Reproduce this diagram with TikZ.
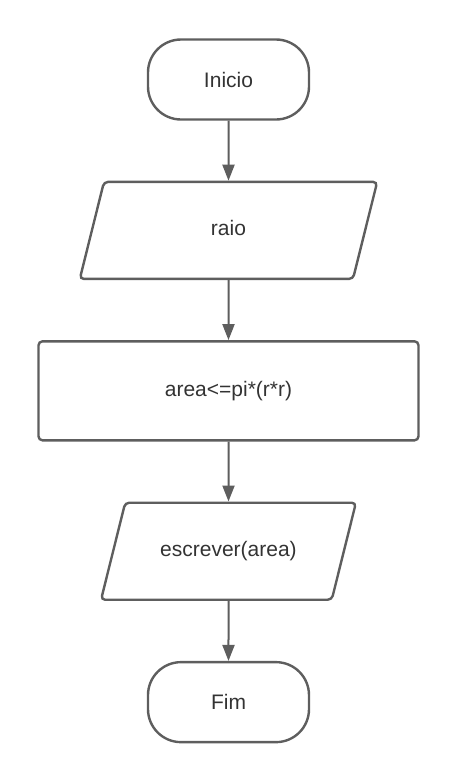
\documentclass[tikz,border=0pt]{standalone}
\usepackage{fontspec}
\setmainfont{Liberation Sans}
\usetikzlibrary{arrows.meta, positioning, shapes.geometric}
\definecolor{linegray}{HTML}{5E5E5E}
\definecolor{textgray}{HTML}{333333}

\begin{document}
\begin{tikzpicture}[x=1pt, y=1pt, font=\fontsize{21}{25}\selectfont, node distance=60pt,
   >={Triangle[length=16pt, width=12pt]},
   term/.style={rectangle, draw=linegray, line width=2.4pt, rounded corners=33pt, text=textgray,
                minimum width=161pt, minimum height=80pt},
   io/.style={trapezium, trapezium left angle=76, trapezium right angle=104,
              draw=linegray, line width=2.4pt, rounded corners=4pt, text=textgray,
              text height=15pt, text depth=5pt, inner ysep=38.5pt},
   proc/.style={rectangle, draw=linegray, line width=2.4pt, rounded corners=4pt, text=textgray,
                minimum width=380pt, minimum height=99pt},
   flow/.style={->, draw=linegray, line width=2pt}]
\useasboundingbox (0,0) rectangle (460,-780);
\node[term] (start) at (228.5,-79.5) {Inicio};
\node[io, inner xsep=107pt, below=of start] (raio) {raio};
\node[proc, below=of raio] (area) {area<=pi*(r*r)};
\node[io, inner xsep=35pt, below=of area] (out) {escrever(area)};
\node[term, below=of out] (stop) {Fim};
\draw[flow] (start) -- (raio);
\draw[flow] (raio) -- (area);
\draw[flow] (area) -- (out);
\draw[flow] (out) -- (stop);
\end{tikzpicture}
\end{document}
